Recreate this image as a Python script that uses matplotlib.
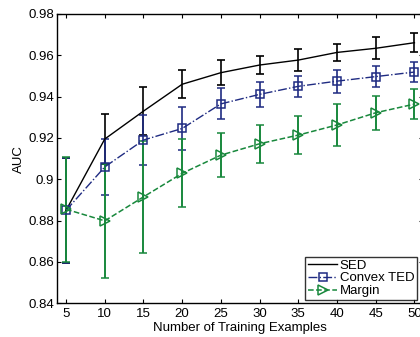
import numpy as np
import matplotlib.pyplot as plt
from matplotlib.lines import Line2D

plt.rcParams['font.family'] = ['Liberation Sans', 'DejaVu Sans']

n_train = [5, 10, 15, 20, 25, 30, 35, 40, 45, 50]

sed_auc = [0.885, 0.9195, 0.933, 0.946, 0.9516, 0.9553, 0.9577, 0.9614, 0.9634, 0.9661]
sed_err = [0.0255, 0.012, 0.0115, 0.0068, 0.006, 0.0042, 0.0055, 0.0043, 0.0053, 0.0045]

ted_auc = [0.885, 0.906, 0.9190, 0.9246, 0.9365, 0.9411, 0.9450, 0.9475, 0.9497, 0.9519]
ted_err = [0.0255, 0.0135, 0.0123, 0.0103, 0.0075, 0.006, 0.005, 0.0055, 0.0052, 0.0047]

margin_auc = [0.8855, 0.8799, 0.8915, 0.9029, 0.9117, 0.9172, 0.9214, 0.9263, 0.9322, 0.9364]
margin_err = [0.0255, 0.0275, 0.027, 0.0165, 0.0105, 0.0093, 0.0092, 0.010, 0.0082, 0.0073]

blue = '#1f2b82'
green = '#18883c'
fs = 9.5

fig = plt.figure(figsize=(4.2, 3.37), dpi=100)
ax = fig.add_axes([0.135, 0.10, 0.872, 0.8585])

ax.errorbar(n_train, sed_auc, yerr=sed_err, color='black', ls='-', lw=1.0,
            capsize=2.8, elinewidth=1.2, capthick=1.2)
ax.errorbar(n_train, ted_auc, yerr=ted_err, color=blue, ls='-.', lw=1.0,
            marker='s', ms=6, mfc='none', mec=blue, mew=1.1,
            capsize=2.8, elinewidth=1.2, capthick=1.2)
ax.errorbar(n_train, margin_auc, yerr=margin_err, color=green, ls='--', lw=1.1,
            marker='>', ms=7, mfc='none', mec=green, mew=1.1,
            capsize=2.8, elinewidth=1.4, capthick=1.4)

ax.set_xlim(3.79, 51.1)
ax.set_ylim(0.84, 0.98)
ax.set_xticks(n_train)
ax.set_yticks(np.arange(0.84, 0.981, 0.02))
ax.set_yticklabels(['0.84', '0.86', '0.88', '0.9', '0.92', '0.94', '0.96', '0.98'])
ax.tick_params(direction='in', top=True, right=True, length=3, width=0.8,
               labelsize=fs, colors='black', pad=2)
ax.tick_params(axis='x', pad=3.5)
for s in ax.spines.values():
    s.set_linewidth(1.0)

ax.set_xlabel('Number of Training Examples', fontsize=fs, labelpad=1.5)
ax.set_ylabel('AUC', fontsize=fs, labelpad=2)

# legend entries show only the line style and marker, no error bars
handles = [
    Line2D([], [], color='black', ls='-', lw=1.0),
    Line2D([], [], color=blue, ls='-.', lw=1.0, marker='s', ms=6,
           mfc='none', mec=blue, mew=1.1),
    Line2D([], [], color=green, ls='--', lw=1.1, marker='>', ms=7,
           mfc='none', mec=green, mew=1.1),
]
leg = ax.legend(handles, ['SED', 'Convex TED', 'Margin'], loc='lower right',
                bbox_to_anchor=(417 / 420, 37 / 337),
                bbox_transform=fig.transFigure, fontsize=fs, frameon=True,
                fancybox=False, edgecolor='black', handlelength=2.2,
                handletextpad=0.2, borderpad=0.2, labelspacing=0.05,
                borderaxespad=0)
leg.get_frame().set_linewidth(1.0)

fig.savefig('out.png', dpi=100)
